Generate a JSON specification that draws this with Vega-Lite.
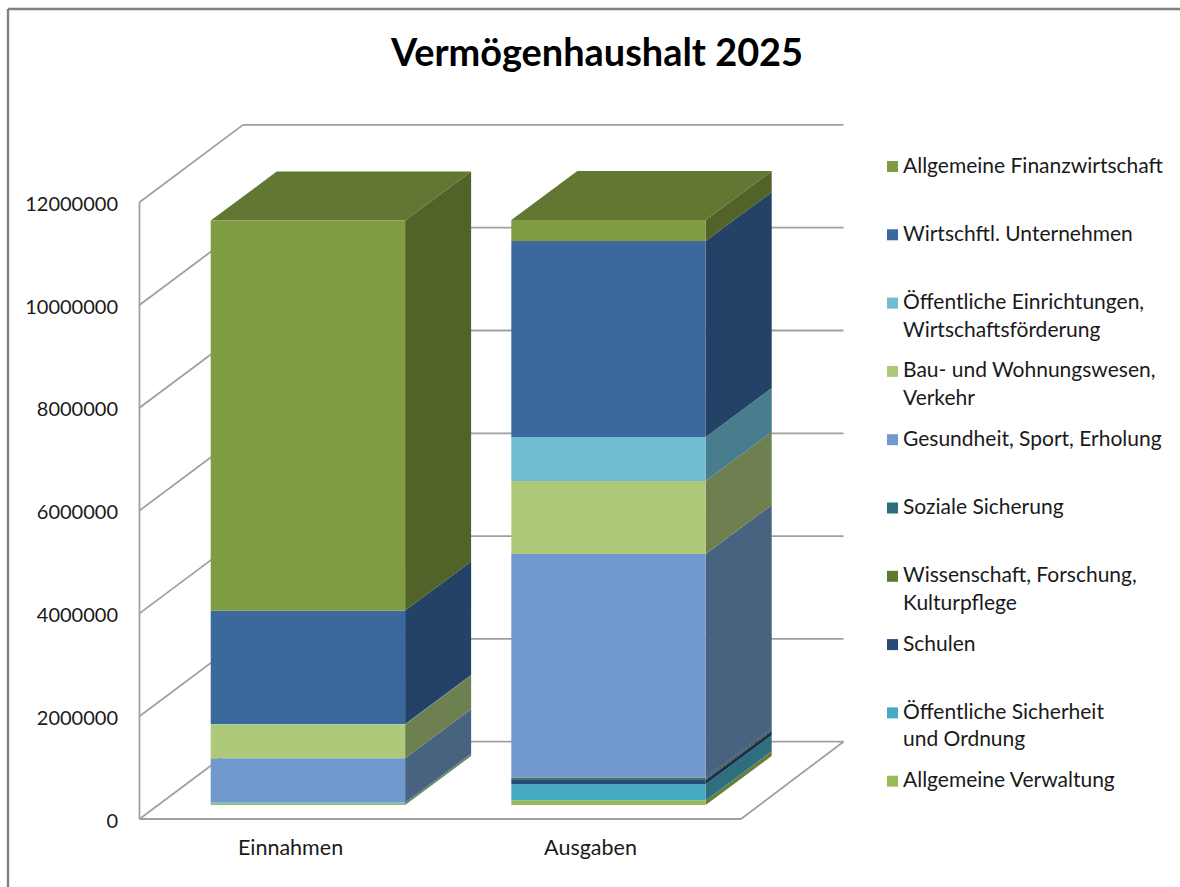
{
"$schema":"https://vega.github.io/schema/vega-lite/v6.json",
"width":1172,"height":878,
"autosize":{"type":"none"},
"padding":{"left":8,"top":9,"right":0,"bottom":0},
"background":"white",
"view":{"stroke":null},
"title":{"text":"Vermögenhaushalt 2025","font":"Lato","fontSize":37.9,"fontWeight":"bold","color":"#000000","anchor":"middle","frame":"group","orient":"top","baseline":"alphabetic","offset":-56,"dx":3,"dy":40},
"datasets":{
"budget":[
{"category":"Einnahmen","series":"Allgemeine Verwaltung","value":29000},
{"category":"Einnahmen","series":"Öffentliche Sicherheit und Ordnung","value":19000},
{"category":"Einnahmen","series":"Gesundheit, Sport, Erholung","value":862000},
{"category":"Einnahmen","series":"Bau- und Wohnungswesen, Verkehr","value":656000},
{"category":"Einnahmen","series":"Öffentliche Einrichtungen, Wirtschaftsförderung","value":10000},
{"category":"Einnahmen","series":"Wirtschftl. Unternehmen","value":2208000},
{"category":"Einnahmen","series":"Allgemeine Finanzwirtschaft","value":7587000},
{"category":"Ausgaben","series":"Allgemeine Verwaltung","value":91000},
{"category":"Ausgaben","series":"Öffentliche Sicherheit und Ordnung","value":311000},
{"category":"Ausgaben","series":"Schulen","value":84000},
{"category":"Ausgaben","series":"Wissenschaft, Forschung, Kulturpflege","value":19000},
{"category":"Ausgaben","series":"Soziale Sicherung","value":25000},
{"category":"Ausgaben","series":"Gesundheit, Sport, Erholung","value":4352000},
{"category":"Ausgaben","series":"Bau- und Wohnungswesen, Verkehr","value":1420000},
{"category":"Ausgaben","series":"Öffentliche Einrichtungen, Wirtschaftsförderung","value":856000},
{"category":"Ausgaben","series":"Wirtschftl. Unternehmen","value":3813000},
{"category":"Ausgaben","series":"Allgemeine Finanzwirtschaft","value":409000}
],
"ticks":[{"tick":0},{"tick":2000000},{"tick":4000000},{"tick":6000000},{"tick":8000000},{"tick":10000000},{"tick":12000000}]
},
"layer":[
{"data":{"name":"ticks"},
 "transform":[{"calculate":"datum.tick+1503891","as":"backTick"}],
 "mark":{"type":"rule","color":"#a0a0a0","strokeWidth":1.8},
 "encoding":{
  "x":{"datum":-0.5017,"type":"quantitative","scale":{"domain":[-0.94,2.96667],"nice":false,"zero":false},
   "axis":{"orient":"bottom","offset":-56,"values":[0,1],"labelExpr":"datum.value==0?'Einnahmen':'Ausgaben'","title":null,"domain":false,"ticks":false,"grid":false,"labelFont":"Lato","labelFontSize":21.5,"labelColor":"#1a1a1a","labelPadding":6,"labelFlush":false,"labelBound":false,"labelOverlap":false}},
  "x2":{"datum":-0.1567},
  "y":{"field":"tick","type":"quantitative","scale":{"domain":[-1322957,15758755],"nice":false,"zero":false},
   "axis":{"orient":"left","offset":-131.5,"values":[0,2000000,4000000,6000000,8000000,10000000,12000000],"format":"d","title":null,"domain":false,"ticks":false,"grid":false,"labelFont":"Lato","labelFontSize":20,"labelColor":"#1a1a1a","labelPadding":22,"labelOffset":2,"labelFlush":false,"labelBound":false,"labelOverlap":false}},
  "y2":{"field":"backTick"}
 }},
{"data":{"name":"ticks"},
 "transform":[{"calculate":"datum.tick+1503891","as":"backTick"}],
 "mark":{"type":"rule","color":"#a0a0a0","strokeWidth":1.8},
 "encoding":{
  "x":{"datum":-0.1567,"type":"quantitative","scale":{"domain":[-0.94,2.96667],"nice":false,"zero":false},"axis":null},
  "x2":{"datum":1.845},
  "y":{"field":"backTick","type":"quantitative","scale":{"domain":[-1322957,15758755],"nice":false,"zero":false},"axis":null}
 }},
{"data":{"values":[{"bottom":0,"top":12000000}]},
 "mark":{"type":"rule","color":"#a0a0a0","strokeWidth":1.8},
 "encoding":{
  "x":{"datum":-0.5017,"type":"quantitative","scale":{"domain":[-0.94,2.96667],"nice":false,"zero":false},"axis":null},
  "y":{"field":"bottom","type":"quantitative","scale":{"domain":[-1322957,15758755],"nice":false,"zero":false},"axis":null},
  "y2":{"field":"top"}
 }},
{"data":{"values":[{"bottom":0}]},
 "mark":{"type":"rule","color":"#a0a0a0","strokeWidth":1.8},
 "encoding":{
  "x":{"datum":-0.5017,"type":"quantitative","scale":{"domain":[-0.94,2.96667],"nice":false,"zero":false},"axis":null},
  "x2":{"datum":1.5033},
  "y":{"field":"bottom","type":"quantitative","scale":{"domain":[-1322957,15758755],"nice":false,"zero":false},"axis":null}
 }},
{"data":{"values":[{"bottom":0,"back":1503891}]},
 "mark":{"type":"rule","color":"#a0a0a0","strokeWidth":1.8},
 "encoding":{
  "x":{"datum":1.5033,"type":"quantitative","scale":{"domain":[-0.94,2.96667],"nice":false,"zero":false},"axis":null},
  "x2":{"datum":1.845},
  "y":{"field":"bottom","type":"quantitative","scale":{"domain":[-1322957,15758755],"nice":false,"zero":false},"axis":null},
  "y2":{"field":"back"}
 }},
{"data":{"values":[{"frame":1}]},
 "mark":{"type":"rule","color":"#808080","strokeWidth":2.4},
 "encoding":{
  "x":{"datum":-0.94,"type":"quantitative","scale":{"domain":[-0.94,2.96667],"nice":false,"zero":false},"axis":null}
 }},
{"data":{"values":[{"frame":1}]},
 "mark":{"type":"rule","color":"#808080","strokeWidth":2.4},
 "encoding":{
  "y":{"datum":15758755,"type":"quantitative","scale":{"domain":[-1322957,15758755],"nice":false,"zero":false},"axis":null}
 }},
{"data":{"name":"budget"},
 "transform":[
  {"calculate":"indexof(['Allgemeine Verwaltung','Öffentliche Sicherheit und Ordnung','Schulen','Wissenschaft, Forschung, Kulturpflege','Soziale Sicherung','Gesundheit, Sport, Erholung','Bau- und Wohnungswesen, Verkehr','Öffentliche Einrichtungen, Wirtschaftsförderung','Wirtschftl. Unternehmen','Allgemeine Finanzwirtschaft'],datum.series)","as":"rank"},
  {"stack":"value","groupby":["category"],"sort":[{"field":"rank","order":"ascending"}],"as":["s0","s1"]},
  {"calculate":"(datum.category=='Einnahmen'?0:1)*1.002-0.2643+0.648","as":"right"},
  {"calculate":"[0,1]","as":"depth"},
  {"flatten":["depth"]},
  {"calculate":"datum.right+datum.depth*0.22","as":"sx"},
  {"calculate":"datum.s0+272374+datum.depth*953307","as":"sy0"},
  {"calculate":"datum.s1+272374+datum.depth*953307","as":"sy1"}
 ],
 "mark":{"type":"area","interpolate":"linear","strokeWidth":0},
 "encoding":{
  "x":{"field":"sx","type":"quantitative","scale":{"domain":[-0.94,2.96667],"nice":false,"zero":false},"axis":null},
  "y":{"field":"sy0","type":"quantitative","scale":{"domain":[-1322957,15758755],"nice":false,"zero":false},"axis":null},
  "y2":{"field":"sy1"},
  "detail":{"field":"category"},
  "color":{"field":"series","type":"nominal","legend":null,"scale":{
   "domain":["Allgemeine Finanzwirtschaft","Wirtschftl. Unternehmen","Öffentliche Einrichtungen, Wirtschaftsförderung","Bau- und Wohnungswesen, Verkehr","Gesundheit, Sport, Erholung","Soziale Sicherung","Wissenschaft, Forschung, Kulturpflege","Schulen","Öffentliche Sicherheit und Ordnung","Allgemeine Verwaltung"],
   "range":["#526329","#244166","#477D8C","#6F8050","#486380","#1D4552","#3E4F22","#1A3050","#2D6E7F","#66803B"]}}
 }},
{"data":{"name":"budget"},
 "transform":[
  {"joinaggregate":[{"op":"sum","field":"value","as":"total"}],"groupby":["category"]},
  {"filter":"datum.series=='Allgemeine Finanzwirtschaft'"},
  {"calculate":"(datum.category=='Einnahmen'?0:1)*1.002-0.2643","as":"left"},
  {"calculate":"[0,1]","as":"depth"},
  {"flatten":["depth"]},
  {"calculate":"datum.left+datum.depth*0.22","as":"tx0"},
  {"calculate":"datum.tx0+0.648","as":"tx1"},
  {"calculate":"datum.total+272374+datum.depth*953307","as":"ty"}
 ],
 "mark":{"type":"area","orient":"horizontal","color":"#627832","strokeWidth":0},
 "encoding":{
  "x":{"field":"tx0","type":"quantitative","scale":{"domain":[-0.94,2.96667],"nice":false,"zero":false},"axis":null},
  "x2":{"field":"tx1"},
  "y":{"field":"ty","type":"quantitative","scale":{"domain":[-1322957,15758755],"nice":false,"zero":false},"axis":null},
  "detail":{"field":"category"}
 }},
{"data":{"name":"budget"},
 "transform":[
  {"calculate":"indexof(['Allgemeine Verwaltung','Öffentliche Sicherheit und Ordnung','Schulen','Wissenschaft, Forschung, Kulturpflege','Soziale Sicherung','Gesundheit, Sport, Erholung','Bau- und Wohnungswesen, Verkehr','Öffentliche Einrichtungen, Wirtschaftsförderung','Wirtschftl. Unternehmen','Allgemeine Finanzwirtschaft'],datum.series)","as":"rank"},
  {"stack":"value","groupby":["category"],"sort":[{"field":"rank","order":"ascending"}],"as":["s0","s1"]},
  {"calculate":"(datum.category=='Einnahmen'?0:1)*1.002-0.2643","as":"left"},
  {"calculate":"datum.left+0.648","as":"right"},
  {"calculate":"datum.s0+272374","as":"fy0"},
  {"calculate":"datum.s1+272374","as":"fy1"}
 ],
 "mark":{"type":"rect","strokeWidth":0},
 "encoding":{
  "x":{"field":"left","type":"quantitative","scale":{"domain":[-0.94,2.96667],"nice":false,"zero":false},"axis":null},
  "x2":{"field":"right"},
  "y":{"field":"fy0","type":"quantitative","scale":{"domain":[-1322957,15758755],"nice":false,"zero":false},"axis":null},
  "y2":{"field":"fy1"},
  "color":{"field":"series","type":"nominal","scale":{
   "domain":["Allgemeine Finanzwirtschaft","Wirtschftl. Unternehmen","Öffentliche Einrichtungen, Wirtschaftsförderung","Bau- und Wohnungswesen, Verkehr","Gesundheit, Sport, Erholung","Soziale Sicherung","Wissenschaft, Forschung, Kulturpflege","Schulen","Öffentliche Sicherheit und Ordnung","Allgemeine Verwaltung"],
   "range":["#7F9C42","#3C699B","#70BDD2","#AFC97B","#7199CD","#2E6D7F","#5E7731","#254A75","#46AAC4","#9BBB59"]},
   "legend":{"orient":"none","legendX":874,"legendY":147,"title":null,"symbolType":"square","symbolSize":121,"symbolStrokeWidth":0,"labelFont":"Lato","labelFontSize":21,"labelColor":"#1a1a1a","labelLimit":400,"labelOffset":0,"gridAlign":"all","rowPadding":19.3,"values":["Allgemeine Finanzwirtschaft","Wirtschftl. Unternehmen","Öffentliche Einrichtungen, Wirtschaftsförderung","Bau- und Wohnungswesen, Verkehr","Gesundheit, Sport, Erholung","Soziale Sicherung","Wissenschaft, Forschung, Kulturpflege","Schulen","Öffentliche Sicherheit und Ordnung","Allgemeine Verwaltung"],
    "labelExpr":"datum.value=='Öffentliche Einrichtungen, Wirtschaftsförderung'?['Öffentliche Einrichtungen,','Wirtschaftsförderung']:datum.value=='Bau- und Wohnungswesen, Verkehr'?['Bau- und Wohnungswesen,','Verkehr']:datum.value=='Wissenschaft, Forschung, Kulturpflege'?['Wissenschaft, Forschung,','Kulturpflege']:datum.value=='Öffentliche Sicherheit und Ordnung'?['Öffentliche Sicherheit','und Ordnung']:datum.value",
    "encoding":{"labels":{"lineHeight":{"value":27.5}}}
   }}
 }}
],
"resolve":{"scale":{"color":"independent"},"axis":{"x":"independent","y":"independent"}}
}
